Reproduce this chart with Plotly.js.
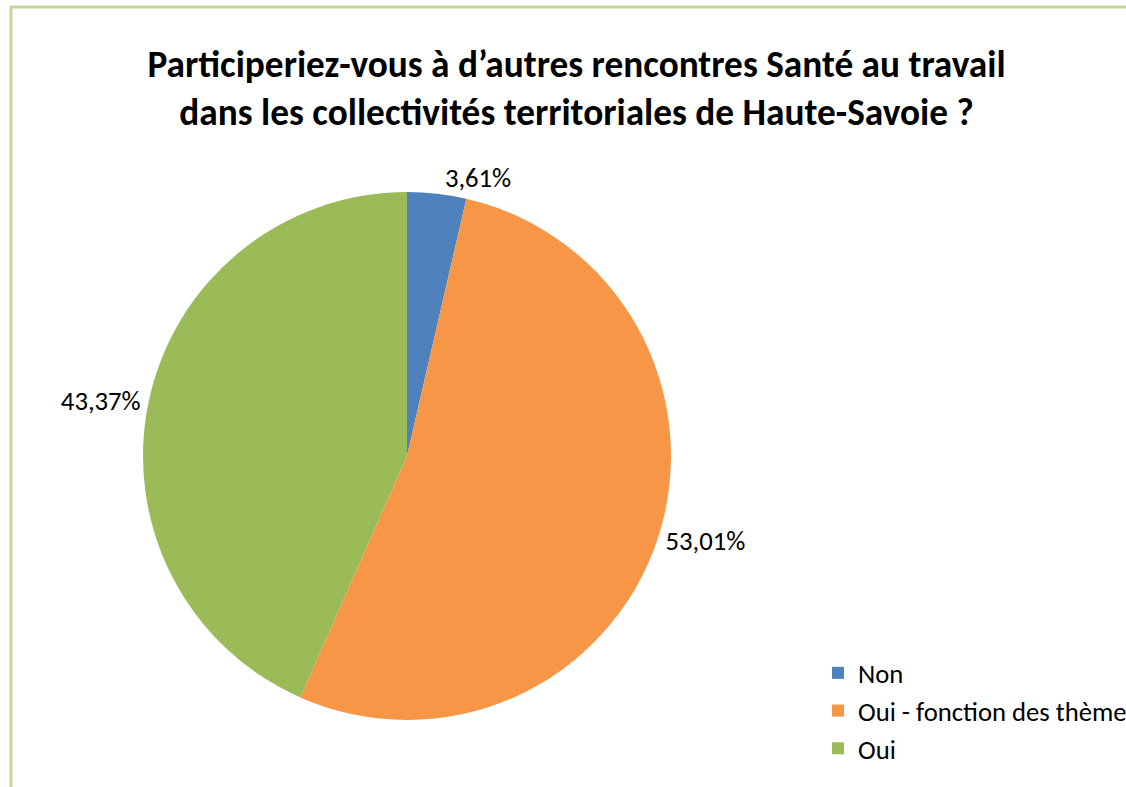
<!DOCTYPE html>
<html>
<head>
<meta charset="utf-8">
<script src="https://cdn.plot.ly/plotly-3.0.1.min.js"></script>
<style>
  html, body { margin: 0; padding: 0; background: #fff; overflow: hidden; }
  #chart { width: 1126px; height: 787px; }
</style>
</head>
<body>
<div id="chart"></div>
<script>
// Survey answers (percent of respondents)
const answers = ['Non', 'Oui - fonction des thèmes', 'Oui'];
const shares = [3.61, 53.01, 43.37];
const sliceColors = ['#4f81bd', '#f79646', '#9bbb59'];

const chartTitle = 'Participeriez-vous à d’autres rencontres Santé au travail<br>dans les collectivités territoriales de Haute-Savoie ?';

const W = 1126, H = 787;
const FONT = 'Carlito, Calibri, "Liberation Sans", sans-serif';
// pie domain in pixels (Plotly shrinks it a bit for the outside labels)
const px = v => v / W;
const py = v => 1 - v / H;

const pie = {
    type: 'pie',
    labels: answers,
    values: shares,
    sort: false,
    direction: 'clockwise',
    rotation: 0,
    marker: { colors: sliceColors, line: { width: 0 } },
    texttemplate: '%{value:.2f}%',
    textposition: 'outside',
    outsidetextfont: { family: FONT, size: 26.7, color: '#000' },
    hoverinfo: 'label+value',
    domain: { x: [px(143), px(671)], y: [py(720), py(192)] }
};

const layout = {
    width: W,
    height: H,
    margin: { l: 0, r: 0, t: 0, b: 0, autoexpand: false },
    paper_bgcolor: '#fff',
    separators: ', ',
    font: { family: FONT, color: '#000' },
    title: {
        text: chartTitle,
        font: { size: 37.3, color: '#000', weight: 'bold' },
        x: 0.512,
        xanchor: 'center',
        y: py(77),
        yanchor: 'middle'
    },
    showlegend: true,
    legend: {
        x: px(818),
        xanchor: 'left',
        y: py(711),
        yanchor: 'middle',
        font: { size: 26.7, color: '#000' },
        itemwidth: 30,
        bgcolor: 'rgba(0,0,0,0)'
    },
    shapes: [{
        type: 'rect',
        xref: 'paper', yref: 'paper',
        x0: px(11), x1: 1.05,
        y0: -0.05, y1: py(7),
        line: { color: '#c4d79b', width: 3 },
        fillcolor: 'rgba(0,0,0,0)'
    }]
};

Plotly.newPlot('chart', [pie], layout, { displayModeBar: false, staticPlot: true });
</script>
</body>
</html>
